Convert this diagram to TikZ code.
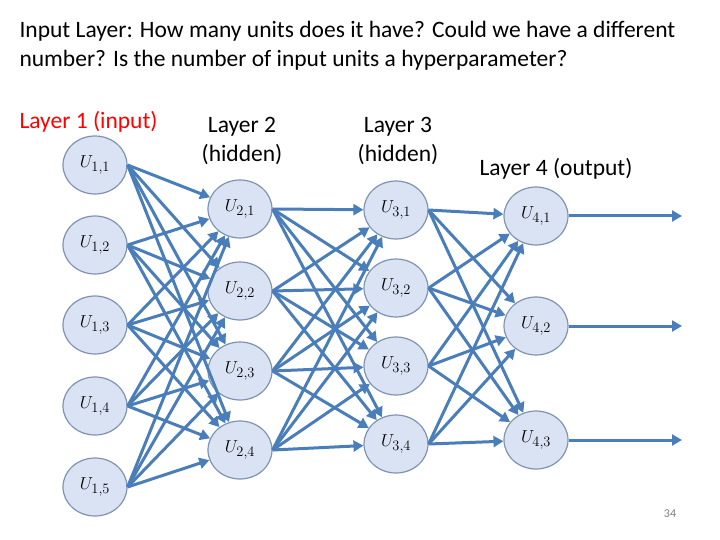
\documentclass[tikz,border=0pt]{standalone}
\usepackage{fontspec}
\setmainfont{Carlito}
\usetikzlibrary{arrows.meta,shapes.geometric}
\definecolor{edge}{HTML}{4A7EBB}
\definecolor{nfill}{HTML}{DAE3F3}
\definecolor{nbord}{HTML}{7F93B0}
\tikzset{
  unit/.style={ellipse,draw=nbord,fill=nfill,line width=1.2pt,minimum width=64pt,minimum height=58pt,inner sep=0pt,font=\fontsize{19}{19}\selectfont},
  conn/.style={draw=edge,line width=3pt,-{Triangle[length=10pt,width=11pt]}},
  lbl/.style={font=\fontsize{23.5}{29}\selectfont,align=center}
}
\begin{document}
\begin{tikzpicture}[x=1pt,y=-1pt]
\useasboundingbox (0,0) rectangle (720,540);
\node[lbl,anchor=west,align=left] (title) at (16,46) {Input Layer: How many units does it have? Could we have a different\\number? Is the number of input units a hyperparameter?};
\node[lbl,anchor=west,text=red] (l1) at (16,122) {Layer 1 (input)};
\node[lbl] (l2) at (242,141) {Layer 2\\(hidden)};
\node[lbl] (l3) at (398,141) {Layer 3\\(hidden)};
\node[lbl] (l4) at (556,169) {Layer 4 (output)};
\node[font=\fontsize{12}{12}\selectfont,text=gray] (pg) at (670,514) {34};
\foreach \i/\y in {1/165,2/245,3/325,4/406,5/487}
  \node[unit] (a\i) at (95,\y) {$U_{1,\i}$};
\foreach \i/\y in {1/209,2/291,3/371,4/450}
  \node[unit] (b\i) at (240,\y) {$U_{2,\i}$};
\foreach \i/\y in {1/210,2/288,3/366,4/444}
  \node[unit] (c\i) at (396,\y) {$U_{3,\i}$};
\foreach \i/\y in {1/216,2/326,3/440}
  \node[unit] (d\i) at (536,\y) {$U_{4,\i}$};
\foreach \i/\y in {1/216,2/326,3/440}
  \coordinate (o\i) at (682,\y);
\foreach \i in {1,...,5} \foreach \j in {1,...,4} \draw[conn] (a\i.east) -- (b\j);
\foreach \i in {1,...,4} \foreach \j in {1,...,4} \draw[conn] (b\i.east) -- (c\j);
\foreach \i in {1,...,4} \foreach \j in {1,...,3} \draw[conn] (c\i.east) -- (d\j);
\foreach \i in {1,...,3} \draw[conn] (d\i.east) -- (o\i);
\end{tikzpicture}
\end{document}
